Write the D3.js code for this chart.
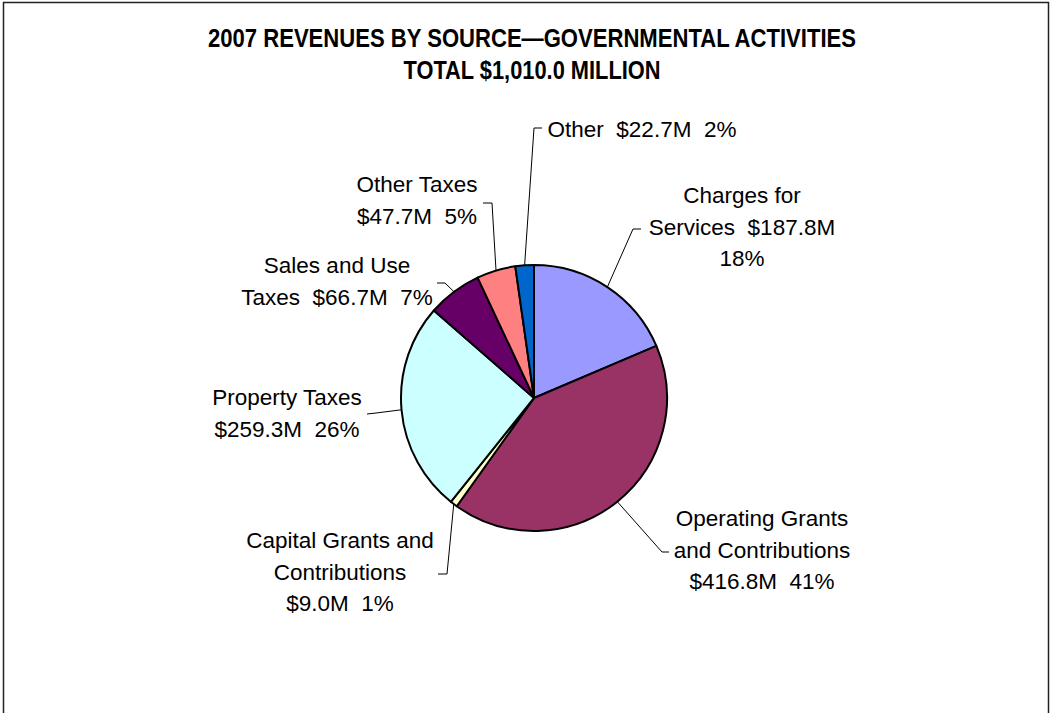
<!DOCTYPE html>
<html>
<head>
<meta charset="utf-8">
<script src="https://cdn.jsdelivr.net/npm/d3@7"></script>
<style>
  body { margin: 0; background: #fff; }
  svg { display: block; }
  text { font-family: "Liberation Sans", Arial, sans-serif; fill: #000; white-space: pre; }
</style>
</head>
<body>
<div id="chart"></div>
<script>
// data ($ millions)
const sources = ['Charges for Services', 'Operating Grants and Contributions', 'Capital Grants and Contributions',
  'Property Taxes', 'Sales and Use Taxes', 'Other Taxes', 'Other'];
const amounts = [187.8, 416.8, 9.0, 259.3, 66.7, 47.7, 22.7];
const percents = ['18%', '41%', '1%', '26%', '7%', '5%', '2%'];
const colors = ['#9999FF', '#993366', '#FFFFCC', '#CCFFFF', '#660066', '#FF8080', '#0066CC'];
const titleLines = ['2007 REVENUES BY SOURCE\u2014GOVERNMENTAL ACTIVITIES', 'TOTAL $1,010.0 MILLION'];
// label lines, {v} = amount, {p} = percent
const labelLines = [
  ['Charges for', 'Services  {v}', '{p}'],
  ['Operating Grants', 'and Contributions', '{v}  {p}'],
  ['Capital Grants and', 'Contributions', '{v}  {p}'],
  ['Property Taxes', '{v}  {p}'],
  ['Sales and Use', 'Taxes  {v}  {p}'],
  ['Other Taxes', '{v}  {p}'],
  ['Other  {v}  {p}']
];

// label placement (text centre x, first baseline y, leader elbow, leader end)
const labelLayout = [
  { x: 742, y: 203, elbow: [633, 229], end: [641, 229] },
  { x: 762, y: 526, elbow: [662, 552], end: [669, 552] },
  { x: 340, y: 548, elbow: [447, 574], end: [438, 574] },
  { x: 287, y: 405, elbow: [376, 413], end: [367, 414] },
  { x: 337, y: 273, elbow: [445, 283], end: [437, 283] },
  { x: 417, y: 192, elbow: [492, 203], end: [483, 203] },
  { x: 642, y: 137, elbow: [534, 128], end: [542, 128] }
];

const width = 1052, height = 713;
const cx = 534, cy = 398, radius = 133;
const lineGap = 31.5;

const svg = d3.select('#chart').append('svg')
  .attr('width', width)
  .attr('height', height);

svg.append('rect')
  .attr('x', 3.5).attr('y', 2.5)
  .attr('width', 1045).attr('height', 800)
  .attr('fill', '#fff')
  .attr('stroke', '#222')
  .attr('stroke-width', 1.5);

// title (condensed bold like the original)
svg.append('g').selectAll('text')
  .data(titleLines)
  .join('text')
  .attr('x', 532)
  .attr('y', (d, i) => 47 + i * 32)
  .attr('text-anchor', 'middle')
  .attr('font-weight', 'bold')
  .attr('font-size', 25)
  .attr('textLength', (d, i) => i === 0 ? 648 : 257)
  .attr('lengthAdjust', 'spacingAndGlyphs')
  .text(d => d);

const slices = d3.pie().sort(null).value(d => d)(amounts);
const arc = d3.arc().innerRadius(0).outerRadius(radius);
const edge = d3.arc().innerRadius(radius).outerRadius(radius);

const pie = svg.append('g').attr('transform', `translate(${cx},${cy})`);
pie.selectAll('path')
  .data(slices)
  .join('path')
  .attr('d', arc)
  .attr('fill', (d, i) => colors[i])
  .attr('stroke', '#000')
  .attr('stroke-width', 2)
  .attr('stroke-linejoin', 'round');

// leader lines
svg.append('g').selectAll('polyline')
  .data(slices)
  .join('polyline')
  .attr('points', (d, i) => {
    const [ex, ey] = edge.centroid(d);
    const l = labelLayout[i];
    return [[cx + ex, cy + ey], l.elbow, l.end].map(p => p.join(',')).join(' ');
  })
  .attr('fill', 'none')
  .attr('stroke', '#000')
  .attr('stroke-width', 1);

// labels
const fmtV = v => '$' + d3.format('.1f')(v) + 'M';
const labels = svg.append('g').selectAll('text')
  .data(slices)
  .join('text')
  .attr('text-anchor', 'middle')
  .attr('font-size', 22.5);

labels.each(function (d, i) {
  const l = labelLayout[i];
  d3.select(this).selectAll('tspan')
    .data(labelLines[i])
    .join('tspan')
    .attr('x', l.x)
    .attr('y', (s, j) => l.y + j * lineGap)
    .text(s => s.replace('{v}', fmtV(amounts[i])).replace('{p}', percents[i]));
});
</script>
</body>
</html>
